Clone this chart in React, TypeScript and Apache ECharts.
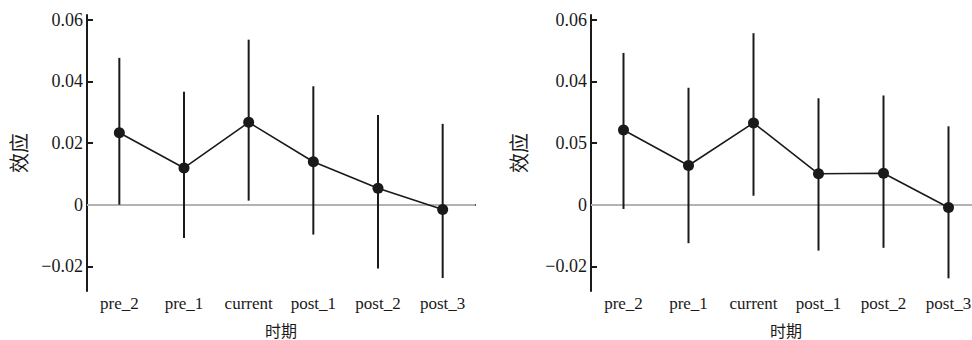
import React, { useEffect, useRef } from "react";
import * as echarts from "echarts";

const categories = ["pre_2", "pre_1", "current", "post_1", "post_2", "post_3"];

const leftEstimate = [0.0233, 0.0119, 0.0267, 0.0139, 0.0053, -0.0016];
const leftLower = [0.0, -0.0108, 0.0013, -0.0097, -0.0207, -0.0238];
const leftUpper = [0.0476, 0.0366, 0.0535, 0.0384, 0.0291, 0.0262];

const rightEstimate = [0.0242, 0.0127, 0.0265, 0.01, 0.0102, -0.0009];
const rightLower = [-0.0014, -0.0125, 0.0029, -0.0149, -0.014, -0.0239];
const rightUpper = [0.0492, 0.0379, 0.0556, 0.0345, 0.0354, 0.0254];

const tickValues = [-0.02, 0, 0.02, 0.04, 0.06];
const leftTickLabels = ["−0.02", "0", "0.02", "0.04", "0.06"];
const rightTickLabels = ["−0.02", "0", "0.05", "0.04", "0.06"];

const xName = "时期";
const yName = "效应";

const FONT = "'Liberation Serif', 'Noto Sans CJK SC', serif";
const INK = "#1a1a1a";

function labelFor(labels: string[]) {
  return (v: number) => {
    const i = tickValues.findIndex((t) => Math.abs(t - v) < 1e-9);
    return i >= 0 ? labels[i] : "";
  };
}

export default function App() {
  const ref = useRef<HTMLDivElement>(null);

  useEffect(() => {
    document.body.style.margin = "0";
    if (!ref.current) return;
    const chart = echarts.init(ref.current, undefined, { renderer: "svg" });

    const makeX = (gridIndex: number) => ({
      type: "category" as const,
      gridIndex,
      data: categories,
      boundaryGap: true,
      name: xName,
      nameLocation: "middle" as const,
      nameGap: 32,
      nameTextStyle: { fontFamily: FONT, fontSize: 16, color: INK },
      axisLine: { show: true, lineStyle: { color: INK, width: 2 } },
      axisTick: { show: false },
      axisLabel: { fontFamily: FONT, fontSize: 17, color: INK, margin: 4, interval: 0 },
      splitLine: { show: false },
    });

    const makeY = (gridIndex: number, labels: string[], nameGap: number) => ({
      type: "value" as const,
      gridIndex,
      min: -0.028,
      max: 0.0615,
      name: yName,
      nameLocation: "middle" as const,
      nameGap,
      nameTextStyle: { fontFamily: FONT, fontSize: 20, color: INK },
      axisLine: { show: true, lineStyle: { color: INK, width: 2 } },
      axisTick: {
        show: true,
        inside: true,
        length: 6,
        lineStyle: { color: INK, width: 2 },
        customValues: tickValues,
      },
      axisLabel: {
        fontFamily: FONT,
        fontSize: 18,
        color: INK,
        margin: 4,
        customValues: tickValues,
        formatter: labelFor(labels),
      },
      splitLine: { show: false },
    });

    const errorBars = (idx: number, lower: number[], upper: number[]) => ({
      type: "custom" as const,
      xAxisIndex: idx,
      yAxisIndex: idx,
      z: 3,
      data: categories.map((_, i) => [i, lower[i], upper[i]]),
      renderItem: (_params: any, api: any) => {
        const x = api.value(0);
        const p1 = api.coord([x, api.value(1)]);
        const p2 = api.coord([x, api.value(2)]);
        return {
          type: "line",
          shape: { x1: p1[0], y1: p1[1], x2: p2[0], y2: p2[1] },
          style: { stroke: INK, lineWidth: 2 },
        };
      },
    });

    const estLine = (idx: number, est: number[]) => ({
      type: "line" as const,
      xAxisIndex: idx,
      yAxisIndex: idx,
      z: 4,
      data: est,
      symbol: "circle",
      symbolSize: 11,
      itemStyle: { color: INK },
      lineStyle: { color: INK, width: 1.6 },
      markLine: {
        silent: true,
        symbol: "none",
        z: 1,
        label: { show: false },
        lineStyle: { color: "#b3b3b3", width: 2, type: "solid" },
        data: [{ yAxis: 0 }],
      },
    });

    chart.setOption({
      animation: false,
      backgroundColor: "#ffffff",
      grid: [
        { left: 87, top: 15, width: 388, bottom: 49, containLabel: false, outerBoundsMode: "none" },
        { left: 591, top: 15, width: 390, bottom: 49, containLabel: false, outerBoundsMode: "none" },
      ],
      xAxis: [makeX(0), makeX(1)],
      yAxis: [makeY(0, leftTickLabels, 57), makeY(1, rightTickLabels, 61)],
      series: [
        errorBars(0, leftLower, leftUpper),
        estLine(0, leftEstimate),
        errorBars(1, rightLower, rightUpper),
        estLine(1, rightEstimate),
      ],
    });

    return () => chart.dispose();
  }, []);

  return <div ref={ref} style={{ width: 972, height: 340 }} />;
}
